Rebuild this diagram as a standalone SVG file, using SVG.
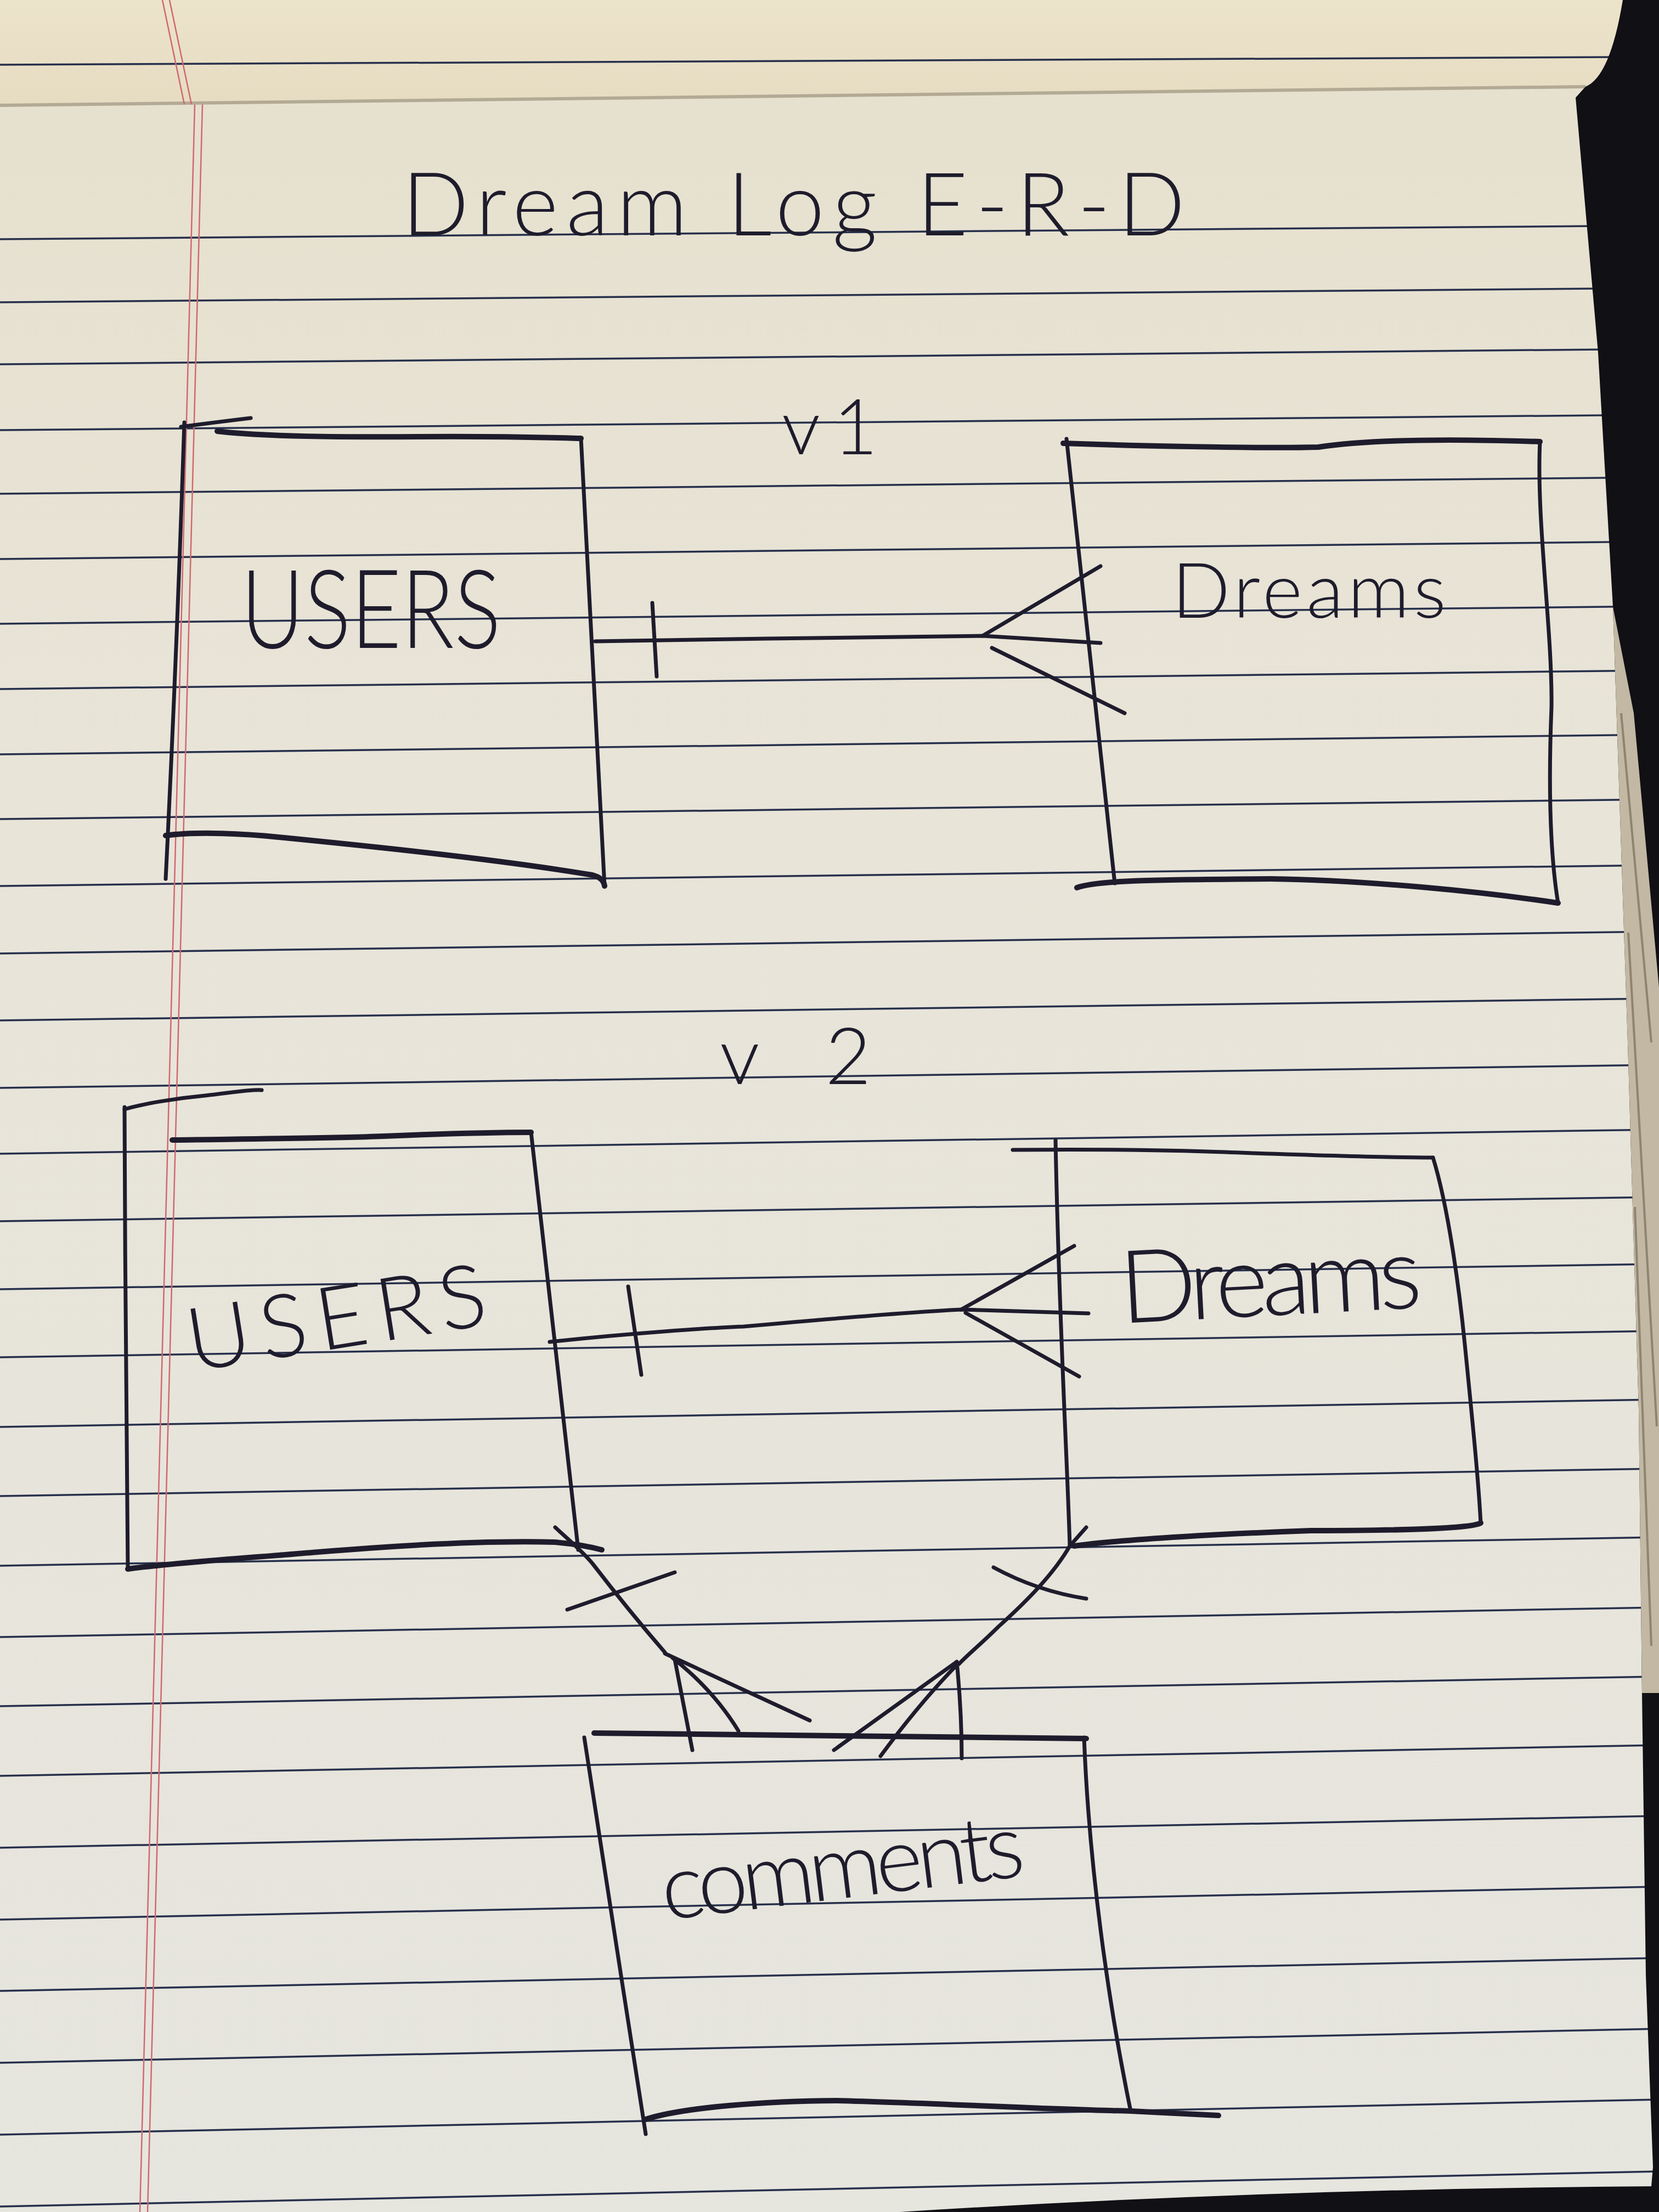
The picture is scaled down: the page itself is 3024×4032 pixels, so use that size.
<svg xmlns="http://www.w3.org/2000/svg" width="3024" height="4032" viewBox="0 0 3024 4032">
<defs>
<linearGradient id="paperGrad" x1="0" y1="0" x2="0" y2="1">
<stop offset="0" stop-color="#e6e0cd"/>
<stop offset="0.35" stop-color="#e8e4d8"/>
<stop offset="1" stop-color="#e6e5de"/>
</linearGradient>
<linearGradient id="stripGrad" x1="0" y1="0" x2="0" y2="1">
<stop offset="0" stop-color="#ece3cb"/>
<stop offset="1" stop-color="#e6dcc2"/>
</linearGradient>
<style>
.ink{fill:none;stroke:#1e1c2c;stroke-width:7;stroke-linecap:round;stroke-linejoin:round}
.thick{stroke-width:10}
.rule{fill:none;stroke:#27304c;stroke-width:3.5}
.margin{fill:none;stroke:#d06870;stroke-width:2.5}
.hand{font-family:Lato,"Liberation Sans",sans-serif;font-weight:300;fill:#1e1c2c}
</style>
</defs>

<g id="paper">
<rect x="0" y="0" width="3024" height="4032" fill="url(#paperGrad)"/>
<g id="rules">
<path class="rule" d="M0,436 L3024,411"/>
<path class="rule" d="M0,551 L3024,525"/>
<path class="rule" d="M0,664 L3024,636"/>
<path class="rule" d="M0,784 L3024,756"/>
<path class="rule" d="M0,900 L3024,870"/>
<path class="rule" d="M0,1019 L3024,987"/>
<path class="rule" d="M0,1137 L3024,1105"/>
<path class="rule" d="M0,1256 L3024,1222"/>
<path class="rule" d="M0,1375 L3024,1339"/>
<path class="rule" d="M0,1493 L3024,1457"/>
<path class="rule" d="M0,1615 L3024,1577"/>
<path class="rule" d="M0,1738 L3024,1698"/>
<path class="rule" d="M0,1860 L3024,1820"/>
<path class="rule" d="M0,1983 L3024,1941"/>
<path class="rule" d="M0,2103 L3024,2059"/>
<path class="rule" d="M0,2226 L3024,2182"/>
<path class="rule" d="M0,2350 L3024,2304"/>
<path class="rule" d="M0,2474 L3024,2426"/>
<path class="rule" d="M0,2601 L3024,2551"/>
<path class="rule" d="M0,2727 L3024,2677"/>
<path class="rule" d="M0,2854 L3024,2802"/>
<path class="rule" d="M0,2984 L3024,2930"/>
<path class="rule" d="M0,3110 L3024,3056"/>
<path class="rule" d="M0,3237 L3024,3181"/>
<path class="rule" d="M0,3368 L3024,3310"/>
<path class="rule" d="M0,3499 L3024,3439"/>
<path class="rule" d="M0,3629 L3024,3569"/>
<path class="rule" d="M0,3760 L3024,3698"/>
<path class="rule" d="M0,3891 L3024,3827"/>
<path class="rule" d="M0,4022 L3024,3958"/>
</g>
<path class="margin" d="M355,190 L255,4032"/>
<path class="margin" d="M369,190 L269,4032"/>
<path d="M0,0 L2958,0 Q2935,140 2890,158 L0,192 Z" fill="url(#stripGrad)"/>
<path d="M0,192 L2890,158" fill="none" stroke="#b3aa95" stroke-width="6"/>
<path class="rule" d="M0,118 L2945,104" stroke-width="5"/>
<path class="margin" d="M296,0 L336,190"/>
<path class="margin" d="M309,0 L349,190"/>
<path d="M2958,0 L3024,0 L3024,4032 L3006,4032 L3013,3950 L3000,3600 L2993,3086 L2987,2570 L2967,1900 L2940,1106 L2913,643 L2872,178 L2890,158 Q2935,140 2958,0 Z" fill="#101015"/>
<path d="M2940,1106 L2978,1300 L3024,1800 L3024,3086 L2993,3086 L2987,2570 L2967,1900 Z" fill="#c2b8a3"/>
<path d="M2955,1300 L3010,1900 M2968,1700 L3020,2600 M2980,2200 L3010,3000" fill="none" stroke="#8e846f" stroke-width="4"/>
<path d="M1640,4032 Q2300,3990 3024,3985 L3024,4032 Z" fill="#101015"/>
</g>

<g id="title-label">
<text class="hand" x="733" y="429" font-size="160" textLength="1427">Dream Log E-R-D</text>
</g>
<g id="label-v1">
<text class="hand" x="1425" y="828" font-size="140" textLength="175">v1</text>
</g>
<g id="label-v2">
<text class="hand" x="1312" y="1976" font-size="145" textLength="276">v2</text>
</g>

<g id="users-v1">
<path class="ink" d="M336,770 Q322,1200 302,1602"/>
<path class="ink" d="M330,778 Q390,770 457,762"/>
<path class="ink thick" d="M396,786 C480,796 620,797 767,796 S980,797 1059,799"/>
<path class="ink" d="M1059,799 L1102,1615"/>
<path class="ink thick" d="M302,1523 C360,1515 450,1520 508,1526 C650,1540 900,1565 1080,1595 Q1100,1600 1102,1615"/>
<text class="hand" x="439" y="1181" font-size="200" textLength="474" lengthAdjust="spacingAndGlyphs">USERS</text>
</g>

<g id="dreams-v1">
<path class="ink thick" d="M1938,808 C2050,812 2300,818 2403,815 C2500,800 2650,800 2807,805"/>
<path class="ink" d="M1944,800 L2032,1610"/>
<path class="ink" d="M2807,805 C2800,950 2830,1150 2828,1290 C2822,1440 2826,1560 2840,1646"/>
<path class="ink thick" d="M1963,1618 C2000,1605 2100,1603 2316,1602 C2500,1605 2700,1625 2840,1646"/>
<text class="hand" x="2136" y="1126" font-size="140" textLength="500">Dreams</text>
</g>

<g id="users-v2">
<path class="ink" d="M227,2018 C228,2300 230,2600 233,2860"/>
<path class="ink" d="M227,2022 C260,2012 320,2002 374,1997 C420,1992 460,1985 477,1987"/>
<path class="ink thick" d="M314,2078 C450,2076 600,2075 700,2071 C820,2066 900,2064 968,2064"/>
<path class="ink" d="M968,2064 L1054,2825"/>
<path class="ink thick" d="M233,2860 C300,2850 450,2840 580,2829 C750,2815 900,2808 1011,2811 Q1060,2815 1097,2825"/>
<text class="hand" x="350" y="2500" font-size="160" textLength="550" transform="rotate(-9 350 2500)">USERS</text>
</g>

<g id="dreams-v2">
<path class="ink" d="M1846,2096 C1950,2095 2100,2096 2200,2099 C2350,2104 2500,2110 2612,2110" stroke="#3a3a48"/>
<path class="ink" d="M1924,2078 C1930,2400 1945,2650 1950,2818"/>
<path class="ink" d="M2612,2110 C2640,2200 2660,2350 2670,2450 C2685,2600 2695,2700 2699,2776"/>
<path class="ink thick" d="M2699,2776 C2680,2788 2500,2790 2389,2790 C2250,2795 2050,2805 1958,2818"/>
<path class="ink" d="M1980,2784 L1950,2818"/>
<text class="hand" x="2044" y="2412" font-size="185" textLength="551" transform="rotate(-3 2044 2412)">Dreams</text>
</g>

<g id="comments">
<path class="ink thick" d="M1083,3159 C1300,3160 1600,3163 1980,3169"/>
<path class="ink" d="M1065,3167 C1100,3400 1140,3650 1177,3890"/>
<path class="ink" d="M1976,3167 C1985,3400 2020,3650 2061,3848"/>
<path class="ink thick" d="M1177,3863 C1250,3840 1400,3830 1525,3829 C1700,3833 1900,3845 2061,3848 L2221,3856"/>
<text class="hand" x="1212" y="3500" font-size="165" textLength="665" transform="rotate(-7 1212 3500)">comments</text>
</g>

<g id="connectors">
<g id="users-dreams-v1">
<path class="ink" d="M1085,1169 C1300,1166 1600,1160 1791,1159 L2006,1172"/>
<path class="ink" d="M1189,1099 L1197,1233"/>
<path class="ink" d="M2006,1032 L1791,1159 M1808,1181 L2050,1300"/>
</g>
<g id="users-dreams-v2">
<path class="ink" d="M1002,2446 C1150,2430 1300,2420 1355,2418 C1500,2405 1650,2392 1752,2387 L1984,2394"/>
<path class="ink" d="M1145,2345 L1169,2506"/>
<path class="ink" d="M1958,2271 L1752,2387 M1760,2393 L1967,2509"/>
</g>
<g id="users-comments">
<path class="ink" d="M1012,2784 C1040,2810 1061,2827 1080,2850 C1130,2915 1180,2975 1212,3012"/>
<path class="ink" d="M1034,2934 L1230,2866"/>
<path class="ink" d="M1212,3014 L1476,3136 M1226,3022 Q1300,3080 1346,3155 M1230,3025 L1262,3190"/>
</g>
<g id="dreams-comments">
<path class="ink" d="M1950,2818 C1920,2870 1870,2920 1820,2965 C1790,2995 1765,3015 1748,3033"/>
<path class="ink" d="M1811,2857 Q1890,2900 1980,2914"/>
<path class="ink" d="M1744,3029 L1520,3190 M1744,3035 C1700,3080 1650,3140 1605,3201 M1744,3029 C1750,3090 1753,3150 1753,3205"/>
</g>
</g>
</svg>
